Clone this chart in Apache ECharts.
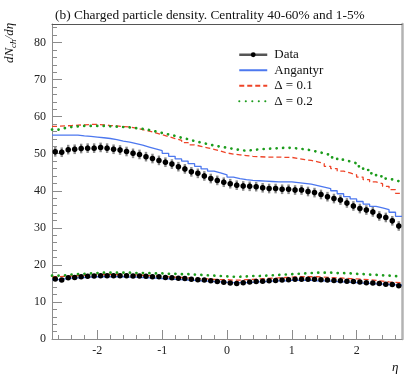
<!DOCTYPE html>
<html><head><meta charset="utf-8">
<script src="https://cdn.jsdelivr.net/npm/echarts@6/dist/echarts.min.js"></script>
<style>html,body{margin:0;padding:0;background:#fff}#c{width:415px;height:375px}</style>
</head><body><div id="c"></div><script>
// ---- data (bins of width 0.1 in eta from -2.7 to 2.7) ----
const binLow = -2.7, binWidth = 0.1;
const etaTicks = [-2, -1, 0, 1, 2];
const yTicks = [0, 10, 20, 30, 40, 50, 60, 70, 80];

// centrality 1-5%
const data_1_5 = [50.5,50.4,51.1,51.2,51.4,51.5,51.5,51.7,51.5,51.2,51.0,50.6,50.1,49.8,49.2,48.7,48.2,47.7,47.2,46.5,45.9,45.1,44.7,44.0,43.3,42.8,42.3,
                  41.9,41.5,41.3,41.2,41.1,40.8,40.6,40.6,40.4,40.4,40.2,40.2,39.8,39.5,39.0,38.4,37.9,37.5,36.7,35.9,35.2,34.8,34.3,33.2,32.8,31.9,30.5];
const ang_1_5 = [55.0,55.0,55.0,55.0,54.8,54.7,54.5,54.3,54.1,53.8,53.4,53.1,52.7,52.3,51.8,51.3,50.8,50.1,49.3,48.6,48.0,47.3,46.6,45.9,45.3,44.8,44.3,
                 43.7,43.3,43.0,42.8,42.7,42.6,42.5,42.4,42.4,42.4,42.2,42.0,41.8,41.4,41.0,40.6,40.0,39.2,38.4,37.8,37.1,36.4,35.8,35.4,34.9,34.2,33.1];
const d01_1_5 = [57.4,57.5,57.6,57.7,57.8,57.9,57.9,57.8,57.6,57.5,57.3,57.2,56.9,56.5,56.1,55.6,55.1,54.6,54.1,53.6,53.0,52.4,52.0,51.6,51.2,50.7,50.2,
                 49.9,49.7,49.5,49.3,49.2,49.1,49.1,49.1,49.0,49.0,48.7,48.4,48.2,47.8,47.3,46.6,46.0,45.3,44.8,44.3,43.7,43.0,42.4,41.9,41.2,40.3,39.3];
const d02_1_5 = [56.5,56.9,57.2,57.4,57.5,57.5,57.5,57.5,57.4,57.3,57.2,57.1,56.9,56.7,56.4,56.0,55.6,55.2,54.8,54.3,53.9,53.4,53.0,52.6,52.2,51.9,51.6,
                 51.3,51.0,50.8,51.0,51.2,51.3,51.4,51.5,51.6,51.6,51.4,51.2,50.9,50.5,50.1,49.6,49.0,48.4,47.9,47.4,46.6,45.6,44.7,43.9,43.3,42.8,42.4];
const err_1_5 = 1.3;

// centrality 40-60%
const data_40_60 = [16.2,15.9,16.5,16.6,16.8,16.9,17.0,17.1,17.1,17.1,17.1,17.1,17.0,17.0,16.9,16.8,16.8,16.6,16.5,16.4,16.3,16.1,16.0,15.9,15.7,15.5,15.3,
                    15.1,15.0,15.2,15.4,15.5,15.6,15.7,15.8,15.9,16.0,16.1,16.1,16.1,16.1,16.0,15.9,15.8,15.7,15.6,15.5,15.4,15.2,15.1,15.0,14.8,14.7,14.4];
const ang_40_60 = [16.0,16.2,16.4,16.5,16.6,16.7,16.8,16.8,16.8,16.8,16.8,16.7,16.7,16.6,16.5,16.4,16.3,16.2,16.1,16.0,15.9,15.8,15.7,15.6,15.5,15.4,15.3,
                   15.2,15.2,15.2,15.3,15.4,15.5,15.6,15.7,15.7,15.8,15.8,15.8,15.8,15.7,15.7,15.6,15.5,15.4,15.3,15.2,15.1,15.0,14.9,14.8,14.7,14.6,14.5];
const d01_40_60 = [16.8,16.9,17.0,17.1,17.2,17.3,17.4,17.4,17.4,17.4,17.4,17.3,17.3,17.2,17.1,17.0,16.9,16.8,16.7,16.6,16.5,16.4,16.3,16.2,16.1,16.0,16.0,
                   15.9,15.9,16.0,16.1,16.2,16.3,16.4,16.5,16.6,16.7,16.8,16.8,16.8,16.8,16.7,16.6,16.5,16.4,16.3,16.2,16.1,16.0,15.8,15.6,15.4,15.3,15.2];
const d02_40_60 = [17.1,17.2,17.4,17.5,17.6,17.7,17.8,17.9,17.9,17.9,17.9,17.9,17.8,17.8,17.8,17.7,17.7,17.6,17.6,17.5,17.5,17.4,17.3,17.2,17.1,17.0,16.9,
                   16.8,16.8,16.9,17.0,17.0,17.1,17.2,17.3,17.4,17.5,17.6,17.7,17.8,17.9,17.9,17.9,17.8,17.8,17.7,17.6,17.5,17.4,17.3,17.2,17.1,17.0,16.8];
const err_40_60 = 0.5;

const titleText = '(b) Charged particle density. Centrality 40-60% and 1-5%';

// ---- helpers ----
const FONT = 'Liberation Serif';
const C_BLUE = '#4d78ef', C_RED = '#ee4428', C_GREEN = '#1c9c1c';
function stepData(vals) {
  const out = vals.map((v, i) => [+(binLow + binWidth * i).toFixed(3), v]);
  out.push([+(binLow + binWidth * vals.length).toFixed(3), vals[vals.length - 1]]);
  return out;
}
function centers(vals, e) {
  return vals.map((v, i) => e === undefined ? [+(binLow + binWidth * (i + 0.5)).toFixed(3), v]
                                            : [+(binLow + binWidth * (i + 0.5)).toFixed(3), v, e]);
}
const minorX = [], minorY = [];
for (let k = -13; k <= 13; k++) { if (k % 5 !== 0) minorX.push(+(k * 0.2).toFixed(2)); }
for (let v = 2; v <= 84; v += 2) { if (v % 10 !== 0) minorY.push(v); }

function mc(name, vals, color, type, width) {
  return { name, type: 'line', step: 'end', data: stepData(vals), symbol: 'none', showSymbol: false,
    lineStyle: { color, width, type, cap: 'butt' },
    itemStyle: { color }, z: 2, silent: true };
}
function dotted(name, vals) {
  const s = mc(name, vals, C_GREEN, [0.1, 6.4], 2.7);
  s.lineStyle.cap = 'round';
  return s;
}
function dataSeries(vals) {
  return { name: 'Data', type: 'line', data: centers(vals), symbol: 'circle', symbolSize: 5.5,
    itemStyle: { color: '#000' }, lineStyle: { width: 0, opacity: 0 }, z: 6 };
}
function errSeries(vals, e) {
  return { type: 'custom', name: 'err', data: centers(vals, e), z: 5, silent: true,
    encode: { x: 0, y: 1 },
    renderItem: (params, api) => {
      const x = api.value(0), y = api.value(1), ee = api.value(2);
      const a = api.coord([x, y + ee]), b = api.coord([x, y - ee]);
      const c = api.coord([x, y + ee * 0.55]), d = api.coord([x, y - ee * 0.55]);
      return { type: 'group', children: [
        { type: 'line', shape: { x1: a[0], y1: a[1], x2: b[0], y2: b[1] }, style: { stroke: '#8a8a8a', lineWidth: 2.4 } },
        { type: 'line', shape: { x1: c[0], y1: c[1], x2: d[0], y2: d[1] }, style: { stroke: '#000', lineWidth: 1.4 } }
      ]};
    } };
}

const chart = echarts.init(document.getElementById('c'), null, { renderer: 'canvas' });
const axisGray = '#8c8c8c';
const hideSym = { opacity: 0 };
chart.setOption({
  animation: false,
  backgroundColor: '#fff',
  title: [
    { text: titleText, left: 50, top: 4, textStyle: { fontFamily: FONT, fontSize: 13.4, fontWeight: 'normal', color: '#111' } },
    { text: 'η', left: 387, top: 356, textStyle: { fontFamily: FONT, fontStyle: 'italic', fontSize: 13, fontWeight: 'normal', color: '#111' } }
  ],
  graphic: [{
    type: 'text', x: 10, y: 43, rotation: Math.PI / 2,
    style: {
      text: '{a|dN}{b|ch}{a|/dη}',
      align: 'center', verticalAlign: 'middle',
      rich: {
        a: { fontFamily: FONT, fontStyle: 'italic', fontSize: 13, lineHeight: 16, fill: '#111', color: '#111' },
        b: { fontFamily: FONT, fontStyle: 'italic', fontSize: 9, lineHeight: 9, verticalAlign: 'bottom', fill: '#111', color: '#111', padding: [6, 0, 0, 0] }
      }
    }
  }],
  legend: {
    left: 233, top: 43, orient: 'vertical', itemWidth: 28, itemHeight: 6, itemGap: 2,
    textStyle: { fontFamily: FONT, fontSize: 13, lineHeight: 13.5, color: '#111', padding: [0, 0, 0, 2] },
    selectedMode: false,
    data: [
      { name: 'Data', lineStyle: { color: '#555', width: 2.5, opacity: 1 }, itemStyle: { color: '#000', opacity: 1 } },
      { name: 'Angantyr', itemStyle: hideSym },
      { name: 'Δ = 0.1', itemStyle: hideSym },
      { name: 'Δ = 0.2', itemStyle: hideSym }
    ]
  },
  grid: { left: 52, right: 13, top: 24, bottom: 36, containLabel: false },
  xAxis: [
    { type: 'value', position: 'bottom', min: -2.7, max: 2.7,
      axisLine: { show: true, onZero: false, lineStyle: { color: axisGray, width: 1 } },
      axisTick: { show: true, inside: true, length: 9, customValues: etaTicks, lineStyle: { color: axisGray } },
      axisLabel: { customValues: etaTicks, margin: 6, fontFamily: FONT, fontSize: 12, color: '#222' },
      splitLine: { show: false } },
    { type: 'value', position: 'bottom', min: -2.7, max: 2.7,
      axisLine: { show: false, onZero: false },
      axisTick: { show: true, inside: true, length: 4, customValues: minorX, lineStyle: { color: axisGray } },
      axisLabel: { show: false }, splitLine: { show: false } },
    { type: 'value', position: 'top', min: -2.7, max: 2.7,
      axisLine: { show: true, onZero: false, lineStyle: { color: '#555', width: 1 } },
      axisTick: { show: false }, axisLabel: { show: false }, splitLine: { show: false } }
  ],
  yAxis: [
    { type: 'value', position: 'left', min: 0, max: 85,
      axisLine: { show: true, onZero: false, lineStyle: { color: axisGray, width: 1 } },
      axisTick: { show: true, inside: true, length: 10, customValues: yTicks, lineStyle: { color: axisGray } },
      axisLabel: { customValues: yTicks, margin: 6, fontFamily: FONT, fontSize: 12, color: '#222' },
      splitLine: { show: false } },
    { type: 'value', position: 'left', min: 0, max: 85,
      axisLine: { show: false, onZero: false },
      axisTick: { show: true, inside: true, length: 5, customValues: minorY, lineStyle: { color: axisGray } },
      axisLabel: { show: false }, splitLine: { show: false } },
    { type: 'value', position: 'right', min: 0, max: 85,
      axisLine: { show: true, onZero: false, lineStyle: { color: '#b3b3b3', width: 2.5 } },
      axisTick: { show: false }, axisLabel: { show: false }, splitLine: { show: false } }
  ],
  series: [
    mc('Angantyr', ang_1_5, C_BLUE, 'solid', 1.3),
    mc('Δ = 0.1', d01_1_5, C_RED, [5, 3], 1.3),
    dotted('Δ = 0.2', d02_1_5),
    mc('Angantyr', ang_40_60, C_BLUE, 'solid', 1.3),
    mc('Δ = 0.1', d01_40_60, C_RED, [5, 3], 1.3),
    dotted('Δ = 0.2', d02_40_60),
    errSeries(data_1_5, err_1_5),
    errSeries(data_40_60, err_40_60),
    dataSeries(data_1_5),
    dataSeries(data_40_60)
  ]
});
</script></body></html>
